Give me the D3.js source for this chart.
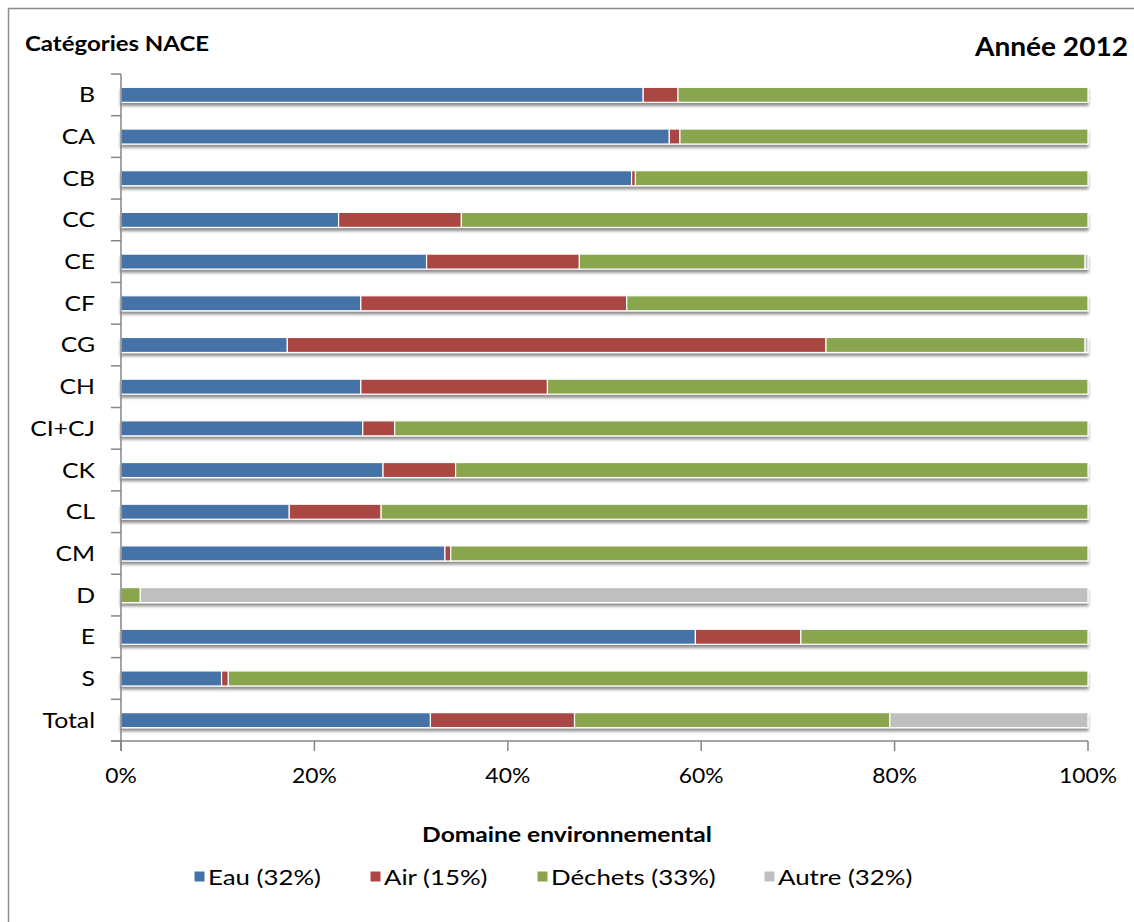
<!DOCTYPE html>
<html><head><meta charset="utf-8">
<script src="https://cdn.jsdelivr.net/npm/d3@7"></script>
<style>
html,body{margin:0;padding:0;background:#fff;}
svg text{font-family:Lato,"Open Sans",sans-serif;fill:#000;}
</style></head>
<body>
<svg id="chart" width="1134" height="922"></svg>
<script>
const categories = ["B","CA","CB","CC","CE","CF","CG","CH","CI+CJ","CK","CL","CM","D","E","S","Total"];
const eau     = [54.0,56.7,52.8,22.5,31.6,24.8,17.2,24.8,25.0,27.1,17.4,33.5,0.0,59.4,10.4,32.0];
const air     = [ 3.6, 1.1, 0.4,12.7,15.8,27.5,55.7,19.3, 3.3, 7.5, 9.5, 0.6,0.0,10.9, 0.7,14.9];
const dechets = [42.4,42.2,46.8,64.8,52.3,47.7,26.8,55.9,71.7,65.4,73.1,65.9,2.0,29.7,88.9,32.6];
const autre   = [ 0.0, 0.0, 0.0, 0.0, 0.3, 0.0, 0.3, 0.0, 0.0, 0.0, 0.0, 0.0,98.0,0.0, 0.0,20.5];
const seriesNames = ["Eau (32%)","Air (15%)","Déchets (33%)","Autre (32%)"];
const seriesColors = ["#4572A7","#AA4643","#89A54E","#BFBFBF"];
const xTicks = [0,0.2,0.4,0.6,0.8,1];

const svg = d3.select("#chart");
const defs = svg.append("defs");
const f = defs.append("filter").attr("id","shadow").attr("x","-5%").attr("y","-50%").attr("width","110%").attr("height","250%");
f.append("feDropShadow").attr("dx",0).attr("dy",3).attr("stdDeviation",1.6).attr("flood-color","#000").attr("flood-opacity",0.45);

// helper: text with horizontal stretch (Calibri-like proportions)
function txt(parent, x, y, str, size, anchor, weight, sx){
  return parent.append("text")
    .attr("transform",`translate(${x},${y}) scale(${sx},1)`)
    .attr("text-anchor",anchor).attr("font-size",size).attr("font-weight",weight).text(str);
}

// frame
svg.append("path").attr("d","M8.5,930 V8.5 H1140").attr("fill","none").attr("stroke","#8c8c8c").attr("stroke-width",1.5);

const rows = categories.map((c,i)=>({cat:c, vals:[eau[i],air[i],dechets[i],autre[i]]}));
rows.forEach(r=>{const s=d3.sum(r.vals); r.norm=r.vals.map(v=>v/s);});

const x = d3.scaleLinear().domain([0,1]).range([121,1088]);
const y = d3.scaleBand().domain(categories).range([74,741]).paddingInner(0.64).paddingOuter(0.32);

const g = svg.append("g");
rows.forEach(r=>{
  let acc=0;
  const segs=r.norm.map((v,k)=>{const s={x0:acc,x1:acc+v,k}; acc+=v; return s;}).filter(s=>s.x1-s.x0>0);
  const rg=g.append("g").attr("filter","url(#shadow)");
  rg.selectAll("rect").data(segs).join("rect")
    .attr("x",d=>x(d.x0)).attr("width",d=>Math.max(0,x(d.x1)-x(d.x0)))
    .attr("y",y(r.cat)).attr("height",y.bandwidth())
    .attr("fill",d=>seriesColors[d.k]).attr("stroke","#fff").attr("stroke-width",1.2);
});

// y axis
const axisColor="#868686";
svg.append("line").attr("x1",121).attr("x2",121).attr("y1",74).attr("y2",751).attr("stroke",axisColor).attr("stroke-width",1.5);
const bounds = categories.map(c=>y(c)-y.step()*y.paddingInner()/2).concat([741]);
svg.selectAll(".yt").data(bounds).join("line").attr("x1",111).attr("x2",121).attr("y1",d=>d).attr("y2",d=>d).attr("stroke",axisColor).attr("stroke-width",1.5);
categories.forEach(c=>txt(svg,95,y(c)+y.bandwidth()/2+7.5,c,21,"end","normal",1.18));

// x axis
svg.append("line").attr("x1",111).attr("x2",1088).attr("y1",741).attr("y2",741).attr("stroke",axisColor).attr("stroke-width",1.5);
svg.selectAll(".xt").data(xTicks).join("line").attr("x1",d=>x(d)).attr("x2",d=>x(d)).attr("y1",741).attr("y2",751).attr("stroke",axisColor).attr("stroke-width",1.5);
xTicks.forEach(t=>txt(svg,x(t),783,d3.format(".0%")(t),21,"middle","normal",1.09));

// titles
txt(svg,25,51,"Catégories NACE",20.5,"start","bold",1.17);
txt(svg,1128,56,"Année 2012",26,"end","bold",1.08);
txt(svg,567,842,"Domaine environnemental",20.5,"middle","bold",1.2);

// legend
const legX=[194,370,537,764];
seriesNames.forEach((n,i)=>{
  const lg=svg.append("g").attr("transform",`translate(${legX[i]},871)`);
  lg.append("rect").attr("x",0).attr("y",0).attr("width",11).attr("height",11).attr("fill",seriesColors[i]).attr("stroke","#fff").attr("stroke-width",1);
  txt(lg,14,13.5,n,21,"start","normal",1.23);
});
</script>
</body></html>
